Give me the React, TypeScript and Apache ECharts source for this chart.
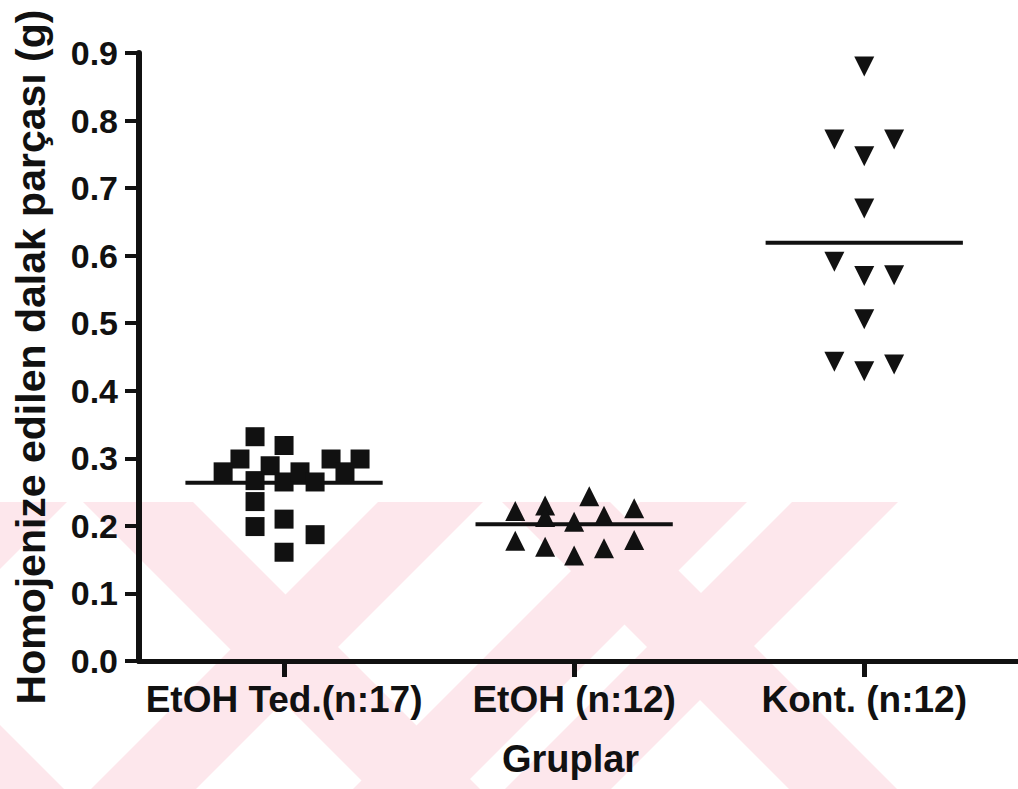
import React, { useEffect, useRef } from "react";
import * as echarts from "echarts";

// Category names (x axis)
const groupNames = ["EtOH Ted.(n:17)", "EtOH (n:12)", "Kont. (n:12)"];
// y tick labels are 0.0 .. 0.9
const yMin = 0;
const yMax = 0.9;
const yStep = 0.1;

// EtOH Ted. (squares)
const etohTedValues = [0.332, 0.319, 0.299, 0.28, 0.289, 0.267, 0.265, 0.28, 0.265, 0.299, 0.28, 0.299, 0.236, 0.199, 0.21, 0.187, 0.161];
const etohTedJitter = [-0.1, 0, -0.152, -0.21, -0.048, -0.1, 0, 0.055, 0.107, 0.162, 0.21, 0.262, -0.1, -0.1, 0, 0.107, 0];
// EtOH (up triangles)
const etohValues = [0.222, 0.23, 0.213, 0.244, 0.206, 0.215, 0.226, 0.178, 0.169, 0.156, 0.167, 0.179];
const etohJitter = [-0.203, -0.1, -0.1, 0.052, 0, 0.103, 0.207, -0.203, -0.1, 0, 0.103, 0.207];
// Kontrol (down triangles)
const kontValues = [0.88, 0.772, 0.772, 0.747, 0.67, 0.591, 0.57, 0.571, 0.506, 0.443, 0.429, 0.439];
const kontJitter = [0, -0.103, 0.103, 0, 0, -0.103, 0, 0.103, 0, -0.103, 0, 0.103];
// group means (horizontal lines)
const groupMeans = [0.264, 0.2025, 0.619];
const meanHalfWidth = 0.34;

const PINK = "#fde7ec";

function clipPoly(poly: number[][], xmin: number, ymin: number, xmax: number, ymax: number) {
  const clipEdge = (pts: number[][], inside: (p: number[]) => boolean, inter: (a: number[], b: number[]) => number[]) => {
    const out: number[][] = [];
    for (let i = 0; i < pts.length; i++) {
      const cur = pts[i];
      const prev = pts[(i + pts.length - 1) % pts.length];
      const ci = inside(cur);
      const pi = inside(prev);
      if (ci) {
        if (!pi) out.push(inter(prev, cur));
        out.push(cur);
      } else if (pi) {
        out.push(inter(prev, cur));
      }
    }
    return out;
  };
  const ix = (x: number) => (a: number[], b: number[]) => [x, a[1] + ((b[1] - a[1]) * (x - a[0])) / (b[0] - a[0])];
  const iy = (y: number) => (a: number[], b: number[]) => [a[0] + ((b[0] - a[0]) * (y - a[1])) / (b[1] - a[1]), y];
  let p = poly;
  p = clipEdge(p, (q) => q[0] >= xmin, ix(xmin));
  if (p.length) p = clipEdge(p, (q) => q[0] <= xmax, ix(xmax));
  if (p.length) p = clipEdge(p, (q) => q[1] >= ymin, iy(ymin));
  if (p.length) p = clipEdge(p, (q) => q[1] <= ymax, iy(ymax));
  return p;
}

function watermark() {
  const top = 502;
  const L = 420;
  const els: any[] = [];
  const back = [[-333, -223], [83, 193], [502, 610]];
  const fwd = [[-38, 67], [378, 483], [640, 747], [792, 898]];
  back.forEach(([a, b]) => {
    const poly = clipPoly([[a, top], [b, top], [b + L, top + L], [a + L, top + L]], 0, top, 1018, 789);
    if (poly.length) els.push({ type: "polygon", z: -10, silent: true, shape: { points: poly }, style: { fill: PINK } });
  });
  fwd.forEach(([a, b]) => {
    const poly = clipPoly([[a, top], [b, top], [b - L, top + L], [a - L, top + L]], 0, top, 1018, 789);
    if (poly.length) els.push({ type: "polygon", z: -10, silent: true, shape: { points: poly }, style: { fill: PINK } });
  });
  return els;
}

export default function App() {
  const ref = useRef<HTMLDivElement>(null);
  useEffect(() => {
    if (!ref.current) return;
    const chart = echarts.init(ref.current, null, { renderer: "svg" });
    const font = "'Liberation Sans', Arial, Helvetica, sans-serif";
    const textColor = "#111";
    const pts = (vals: number[], jit: number[], gi: number) => vals.map((v, i) => [gi + jit[i], v]);
    const meanSeries = groupMeans.map((m, gi) => ({
      type: "line",
      data: [[gi - meanHalfWidth, m], [gi + meanHalfWidth, m]],
      symbol: "none",
      lineStyle: { color: "#111", width: 4 },
      z: 3,
      silent: true,
    }));
    const markStyle = { color: "#111", opacity: 1 };
    chart.setOption({
      animation: false,
      backgroundColor: "#fff",
      graphic: watermark(),
      grid: { left: 139, right: 0, top: 53, bottom: 128, containLabel: false },
      xAxis: {
        type: "value",
        min: -0.5,
        max: 2.53,
        splitLine: { show: false },
        axisLine: { show: true, onZero: false, lineStyle: { color: "#111", width: 5 } },
        axisTick: { show: true, customValues: [0, 1, 2], length: 16, lineStyle: { color: "#111", width: 5 } },
        axisLabel: {
          customValues: [0, 1, 2],
          formatter: (v: number) => groupNames[Math.round(v)] ?? "",
          fontFamily: font,
          fontWeight: "bold",
          fontSize: 37,
          color: textColor,
          margin: 20,
        },
        name: "Gruplar",
        nameLocation: "middle",
        nameGap: 79,
        nameTextStyle: { fontFamily: font, fontWeight: "bold", fontSize: 38, color: textColor, padding: [0, 16, 0, 0] },
      },
      yAxis: {
        type: "value",
        min: yMin,
        max: yMax,
        interval: yStep,
        splitLine: { show: false },
        axisLine: { show: true, onZero: false, lineStyle: { color: "#111", width: 6 } },
        axisTick: { show: true, length: 14, lineStyle: { color: "#111", width: 4 } },
        axisLabel: {
          formatter: (v: number) => v.toFixed(1),
          fontFamily: font,
          fontWeight: "bold",
          fontSize: 34,
          color: textColor,
          margin: 21,
        },
        name: "Homojenize edilen dalak parçası (g)",
        nameLocation: "middle",
        nameRotate: 90,
        nameGap: 88,
        nameTextStyle: { fontFamily: font, fontWeight: "bold", fontSize: 41, color: textColor },
      },
      series: [
        {
          type: "scatter",
          data: pts(etohTedValues, etohTedJitter, 0),
          symbol: "rect",
          symbolSize: 19,
          itemStyle: markStyle,
          z: 4,
        },
        {
          type: "scatter",
          data: pts(etohValues, etohJitter, 1),
          symbol: "triangle",
          symbolSize: 20,
          itemStyle: markStyle,
          z: 4,
        },
        {
          type: "scatter",
          data: pts(kontValues, kontJitter, 2),
          symbol: "triangle",
          symbolRotate: 180,
          symbolSize: 20,
          itemStyle: markStyle,
          z: 4,
        },
        ...meanSeries,
      ],
    });
    return () => chart.dispose();
  }, []);
  return (
    <div
      ref={ref}
      style={{ position: "fixed", left: 0, top: 0, width: 1018, height: 789, background: "#fff" }}
    />
  );
}
